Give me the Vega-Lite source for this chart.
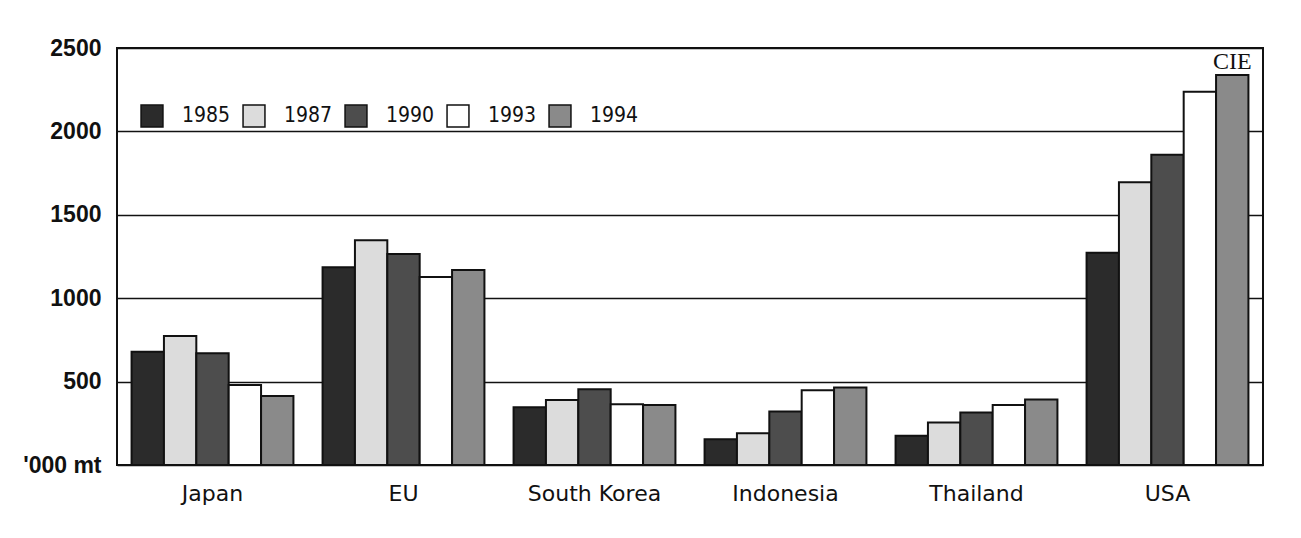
{
  "$schema": "https://vega.github.io/schema/vega-lite/v6.json",
  "width": 1146,
  "height": 417,
  "autosize": "none",
  "padding": {"left": 117, "top": 48, "right": 38, "bottom": 73},
  "background": "white",
  "config": {
    "view": {"stroke": "#111111", "strokeWidth": 2},
    "font": "Liberation Sans"
  },
  "data": {
    "values": [
      {"country": "Japan", "year": "1985", "value": 679},
      {"country": "Japan", "year": "1987", "value": 773},
      {"country": "Japan", "year": "1990", "value": 670},
      {"country": "Japan", "year": "1993", "value": 480},
      {"country": "Japan", "year": "1994", "value": 414},
      {"country": "EU", "year": "1985", "value": 1186},
      {"country": "EU", "year": "1987", "value": 1348},
      {"country": "EU", "year": "1990", "value": 1265},
      {"country": "EU", "year": "1993", "value": 1127},
      {"country": "EU", "year": "1994", "value": 1169},
      {"country": "South Korea", "year": "1985", "value": 346},
      {"country": "South Korea", "year": "1987", "value": 390},
      {"country": "South Korea", "year": "1990", "value": 454},
      {"country": "South Korea", "year": "1993", "value": 364},
      {"country": "South Korea", "year": "1994", "value": 360},
      {"country": "Indonesia", "year": "1985", "value": 155},
      {"country": "Indonesia", "year": "1987", "value": 190},
      {"country": "Indonesia", "year": "1990", "value": 320},
      {"country": "Indonesia", "year": "1993", "value": 448},
      {"country": "Indonesia", "year": "1994", "value": 465},
      {"country": "Thailand", "year": "1985", "value": 175},
      {"country": "Thailand", "year": "1987", "value": 255},
      {"country": "Thailand", "year": "1990", "value": 315},
      {"country": "Thailand", "year": "1993", "value": 360},
      {"country": "Thailand", "year": "1994", "value": 393},
      {"country": "USA", "year": "1985", "value": 1273},
      {"country": "USA", "year": "1987", "value": 1695},
      {"country": "USA", "year": "1990", "value": 1860},
      {"country": "USA", "year": "1993", "value": 2238},
      {"country": "USA", "year": "1994", "value": 2338, "source": "CIE"}
    ]
  },
  "encoding": {
    "x": {
      "field": "country",
      "type": "nominal",
      "sort": ["Japan", "EU", "South Korea", "Indonesia", "Thailand", "USA"],
      "scale": {"paddingInner": 0, "paddingOuter": 0},
      "axis": {
        "title": null,
        "labelAngle": 0,
        "domain": false,
        "ticks": false,
        "labelFont": "DejaVu Sans",
        "labelFontSize": 22,
        "labelColor": "#111111",
        "labelPadding": 18
      }
    },
    "xOffset": {
      "field": "year",
      "type": "nominal",
      "scale": {"paddingInner": 0, "paddingOuter": 0.45}
    },
    "y": {
      "field": "value",
      "type": "quantitative",
      "scale": {"domain": [0, 2500], "nice": false},
      "axis": {
        "title": null,
        "values": [0, 500, 1000, 1500, 2000, 2500],
        "format": "d",
        "labelExpr": "datum.value == 0 ? \"'000 mt\" : datum.label",
        "domain": false,
        "ticks": false,
        "grid": true,
        "gridColor": "#111111",
        "gridWidth": 1.5,
        "gridOpacity": 1,
        "labelFont": "Liberation Sans",
        "labelFontWeight": "bold",
        "labelFontSize": 23,
        "labelColor": "#111111",
        "labelPadding": 16
      }
    }
  },
  "layer": [
    {
      "mark": {"type": "bar", "stroke": "#111111", "strokeWidth": 2},
      "encoding": {
        "fill": {
          "field": "year",
          "type": "nominal",
          "scale": {
            "domain": ["1985", "1987", "1990", "1993", "1994"],
            "range": ["#2b2b2b", "#dcdcdc", "#4d4d4d", "#ffffff", "#8a8a8a"]
          },
          "legend": {
            "title": null,
            "orient": "none",
            "direction": "horizontal",
            "legendX": 23,
            "legendY": 56,
            "padding": 0,
            "symbolType": "square",
            "symbolSize": 480,
            "symbolStrokeColor": "#111111",
            "symbolStrokeWidth": 1.5,
            "labelFont": "DejaVu Sans Condensed",
            "labelFontSize": 21,
            "labelColor": "#111111",
            "labelOffset": 18,
            "columnPadding": 9
          }
        }
      }
    },
    {
      "transform": [{"filter": "datum.source != null"}],
      "mark": {
        "type": "text",
        "baseline": "bottom",
        "align": "center",
        "dy": -1,
        "font": "Liberation Serif",
        "fontSize": 24,
        "color": "#111111"
      },
      "encoding": {
        "text": {"field": "source"}
      }
    }
  ]
}
